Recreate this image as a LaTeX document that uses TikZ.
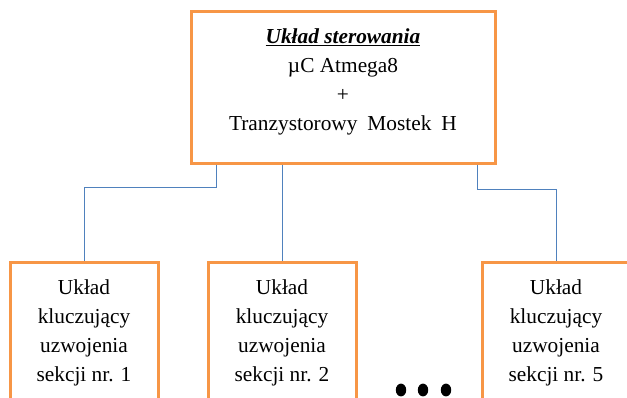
\documentclass[tikz,border=0pt]{standalone}
\usepackage{fontspec}
\setmainfont{Liberation Serif}
\usepackage{xcolor}
\definecolor{boxorange}{RGB}{247,150,70}
\definecolor{linkblue}{RGB}{79,129,189}
\newcommand\widesp{\spaceskip 7.5pt plus 1pt\relax}

\begin{document}
\begin{tikzpicture}[x=.75pt,y=-.75pt,
  box/.style={draw=boxorange,line width=2.25pt,minimum width=111pt,minimum height=105pt,
    align=center,inner sep=0pt,font=\fontsize{16}{21.75}\selectfont},
  link/.style={draw=linkblue,line width=.75pt}]
\useasboundingbox (0,0) rectangle (627,397);
\clip (0,0) rectangle (627,397);
\node[box,minimum width=228pt,minimum height=114pt] (ctrl) at (343,87) {};
\node[align=center,font=\fontsize{16}{21.75}\selectfont] (ctrltxt) at (343,82)
  {\textbf{\textit{\underline{Układ sterowania}}}\\ µC Atmega8\\ +\\ {\widesp Tranzystorowy Mostek H}};
\node[box] (s1) at (84,332.5) {Układ\\ kluczujący\\ uzwojenia\\ sekcji nr. 1};
\node[box] (s2) at (282,332.5) {Układ\\ kluczujący\\ uzwojenia\\ sekcji nr. 2};
\node[box] (s5) at (556,332.5) {Układ\\ kluczujący\\ uzwojenia\\ sekcji nr. 5};
\draw[link] ([xshift=-95.25pt]ctrl.south) -- ++(0,23) -| (s1.north);
\draw[link] (ctrl.south -| s2.north) -- (s2.north);
\draw[link] ([xshift=100.5pt]ctrl.south) -- ++(0,25) -| (s5.north);
\foreach \x in {401,423,446}{\fill (\x,390) ellipse (3.9pt and 4.8pt);}
\end{tikzpicture}
\end{document}
